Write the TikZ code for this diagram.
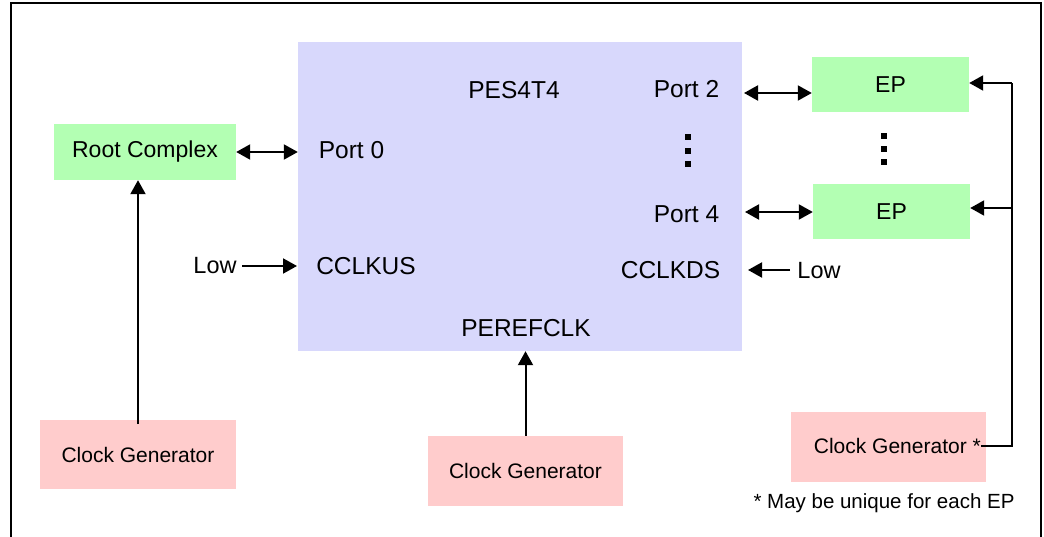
\documentclass[tikz,border=0pt]{standalone}
\usepackage{fontspec}
\setmainfont{Liberation Sans}
\usetikzlibrary{arrows.meta}
\definecolor{pesfill}{HTML}{D8D8FC}
\definecolor{greenfill}{HTML}{B3FFB3}
\definecolor{pinkfill}{HTML}{FFCCCC}
\tikzset{
  box/.style={draw=none, inner sep=0pt, anchor=center},
  lbl/.style={inner sep=0pt, anchor=center, font=\fontsize{24.5}{28}\selectfont},
  cglbl/.style={inner sep=0pt, anchor=center, font=\fontsize{21}{25}\selectfont},
  conn/.style={line width=2pt, -{Triangle[length=14pt,width=15pt]}},
  biconn/.style={line width=2pt, {Triangle[length=14pt,width=15pt]}-{Triangle[length=14pt,width=15pt]}},
  dotsq/.style={fill=black, minimum size=6pt, inner sep=0pt},
}
\begin{document}
\begin{tikzpicture}[x=1pt,y=-1pt]
\useasboundingbox (0,0) rectangle (1044,537);
\fill[white] (0,0) rectangle (1044,537);
% frame
\draw[line width=2pt] (11,545) -- (11,3) -- (1041,3) -- (1041,545);
% boxes
\node[box, fill=pesfill, minimum width=444pt, minimum height=309pt] (pes) at (520,196.5) {};
\node[box, fill=greenfill, minimum width=182pt, minimum height=56pt, cglbl, font=\fontsize{23}{27}\selectfont] (root) at (145,152) {Root Complex};
\node[box, fill=greenfill, minimum width=157pt, minimum height=55pt, lbl, font=\fontsize{23}{27}\selectfont] (ep1) at (890.5,84.5) {EP};
\node[box, fill=greenfill, minimum width=157pt, minimum height=55pt, lbl, font=\fontsize{23}{27}\selectfont] (ep2) at (891.5,211.5) {EP};
\node[box, fill=pinkfill, minimum width=196pt, minimum height=69pt, cglbl] (cg1) at (138,454.5) {Clock Generator};
\node[box, fill=pinkfill, minimum width=195pt, minimum height=70pt, cglbl] (cg2) at (525.5,471) {Clock Generator};
\node[box, fill=pinkfill, minimum width=195pt, minimum height=70pt] (cg3) at (888.5,447) {};
\node[cglbl, anchor=east] (cg3t) at (981,446) {Clock Generator *};
% labels in PES box
\node[lbl] (title) at (514,90) {PES4T4};
\node[lbl] (p2) at (686.5,89) {Port 2};
\node[lbl] (p0) at (351.5,150) {Port 0};
\node[lbl] (p4) at (686.5,214) {Port 4};
\node[lbl] (us) at (366,266) {CCLKUS};
\node[lbl] (ds) at (670.5,270) {CCLKDS};
\node[lbl] (ref) at (526,328) {PEREFCLK};
\node[cglbl, font=\fontsize{23.5}{27}\selectfont] (lowl) at (215,266) {Low};
\node[cglbl, font=\fontsize{23.5}{27}\selectfont] (lowr) at (819,271) {Low};
\node[cglbl, font=\fontsize{20.5}{24}\selectfont] (note) at (884,503) {* May be unique for each EP};
% dots
\node[dotsq] (d1) at (688,137) {};
\node[dotsq] (d2) at (688,151) {};
\node[dotsq] (d3) at (688,164) {};
\node[dotsq] (e1) at (884,136) {};
\node[dotsq] (e2) at (884,149) {};
\node[dotsq] (e3) at (884,162) {};
% connectors
\draw[biconn] (root.east) -- (pes.west |- root.east);
\coordinate (a2) at (744,93);
\draw[biconn] (a2) -- (ep1.west |- a2);
\coordinate (a4) at (745,212);
\draw[biconn] (a4) -- (ep2.west |- a4);
\coordinate (lowls) at (242,266);
\draw[conn] (lowls) -- (297,266);
\coordinate (lowrs) at (790,270);
\draw[conn] (lowrs) -- (748,270);
\coordinate (cg1top) at (138,424);
\draw[conn] (cg1top) -- (root.south -| cg1top);
\draw[conn] (cg2.north) -- (pes.south -| cg2.north);
\coordinate (rt) at (1012,446);
\coordinate (rt1) at (1012,83);
\coordinate (rt2) at (1012,208);
\draw[line width=2pt] (cg3t.east) -- (rt) -- (rt1);
\draw[conn] (rt1) -- (ep1.east |- rt1);
\draw[conn] (rt2) -- (ep2.east |- rt2);
\end{tikzpicture}
\end{document}
